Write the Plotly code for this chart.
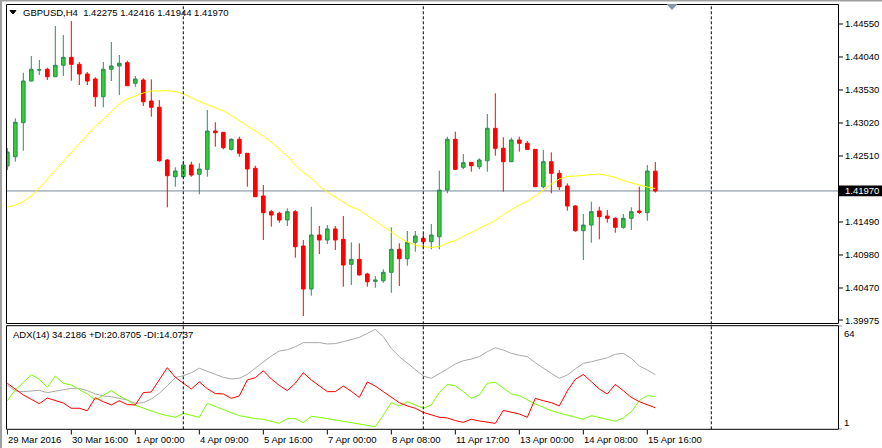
import plotly.graph_objects as go

W, H = 882, 448

# ---------------- data ----------------
bars = list(range(82))
open_ = [1.42355, 1.42499, 1.43025, 1.43669, 1.43839, 1.43850, 1.43735, 1.43912, 1.44035, 1.43927,
         1.43777, 1.43700, 1.43426, 1.43850, 1.43901, 1.43952, 1.43633, 1.43684, 1.43360, 1.43263,
         1.42448, 1.42190, 1.42190, 1.42371, 1.42227, 1.42304, 1.42896, 1.42876, 1.42613, 1.42768,
         1.42552, 1.42320, 1.41892, 1.41649, 1.41624, 1.41521, 1.41649, 1.41119, 1.40454, 1.41289,
         1.41212, 1.41382, 1.41222, 1.40836, 1.40913, 1.40686, 1.40573, 1.40582, 1.40712, 1.41068,
         1.40923, 1.41176, 1.41238, 1.41185, 1.41262, 1.41984, 1.42768, 1.42335, 1.42412, 1.42344,
         1.42437, 1.42938, 1.42629, 1.42422, 1.42757, 1.42706, 1.42613, 1.42035, 1.42422, 1.42242,
         1.42046, 1.41737, 1.41355, 1.41443, 1.41660, 1.41582, 1.41547, 1.41408, 1.41547, 1.41660,
         1.41634, 1.42275]
high = [1.42633, 1.43092, 1.43797, 1.44055, 1.43994, 1.43875, 1.44519, 1.44380, 1.44596, 1.43963,
        1.43808, 1.43726, 1.43963, 1.44272, 1.44071, 1.43983, 1.43746, 1.43711, 1.43695, 1.43375,
        1.42463, 1.42335, 1.42437, 1.42422, 1.42397, 1.43221, 1.43031, 1.42881, 1.42783, 1.42808,
        1.42556, 1.42360, 1.42062, 1.41675, 1.41649, 1.41701, 1.41675, 1.41212, 1.41726, 1.41428,
        1.41443, 1.41428, 1.41582, 1.41176, 1.41160, 1.40706, 1.40655, 1.40759, 1.41408, 1.41160,
        1.41351, 1.41351, 1.41304, 1.41459, 1.42283, 1.42808, 1.42885, 1.42541, 1.42417, 1.42474,
        1.43159, 1.43479, 1.42799, 1.42793, 1.42808, 1.42742, 1.42618, 1.42603, 1.42567, 1.42293,
        1.42088, 1.41752, 1.41613, 1.41803, 1.41726, 1.41675, 1.41562, 1.41613, 1.41717, 1.42035,
        1.42371, 1.42416]
low = [1.42293, 1.42422, 1.42592, 1.43661, 1.43762, 1.43684, 1.43731, 1.43746, 1.43674, 1.43607,
       1.43607, 1.43272, 1.43263, 1.43669, 1.43453, 1.43592, 1.43581, 1.43283, 1.43117, 1.42422,
       1.41717, 1.42035, 1.42170, 1.42190, 1.41918, 1.42190, 1.42654, 1.42613, 1.42592, 1.42499,
       1.42035, 1.41876, 1.41212, 1.41417, 1.41479, 1.41428, 1.40938, 1.40037, 1.40351, 1.40995,
       1.41150, 1.41057, 1.40490, 1.40516, 1.40663, 1.40490, 1.40474, 1.40552, 1.40397, 1.40501,
       1.40814, 1.41031, 1.41083, 1.41068, 1.41068, 1.41933, 1.42293, 1.42304, 1.42267, 1.42304,
       1.42267, 1.42514, 1.41958, 1.42417, 1.42576, 1.42603, 1.42031, 1.42011, 1.41933, 1.41984,
       1.41664, 1.41340, 1.40902, 1.41170, 1.41222, 1.41479, 1.41324, 1.41386, 1.41366, 1.41613,
       1.41510, 1.41944]
close = [1.42572, 1.43031, 1.43669, 1.43850, 1.43842, 1.43735, 1.43912, 1.44035, 1.43927, 1.43777,
         1.43669, 1.43426, 1.43850, 1.43901, 1.43943, 1.43596, 1.43700, 1.43349, 1.43263, 1.42437,
         1.42205, 1.42278, 1.42371, 1.42216, 1.42309, 1.42896, 1.42870, 1.42638, 1.42768, 1.42552,
         1.42309, 1.41881, 1.41634, 1.41598, 1.41521, 1.41649, 1.41108, 1.40454, 1.41289, 1.41212,
         1.41382, 1.41212, 1.40825, 1.40913, 1.40671, 1.40567, 1.40593, 1.40712, 1.41068, 1.40923,
         1.41176, 1.41273, 1.41185, 1.41289, 1.41984, 1.42768, 1.42304, 1.42406, 1.42360, 1.42448,
         1.42938, 1.42629, 1.42422, 1.42757, 1.42706, 1.42613, 1.42035, 1.42422, 1.42242, 1.42035,
         1.41737, 1.41355, 1.41443, 1.41649, 1.41572, 1.41547, 1.41408, 1.41547, 1.41649, 1.41640,
         1.42278, 1.41970]
ma = [1.41717, 1.41752, 1.41807, 1.41892, 1.42015, 1.42154, 1.42293, 1.42433, 1.42572, 1.42711,
      1.42842, 1.42973, 1.43074, 1.43190, 1.43314, 1.43391, 1.43437, 1.43484, 1.43514, 1.43522,
      1.43519, 1.43507, 1.43468, 1.43414, 1.43352, 1.43306, 1.43259, 1.43205, 1.43136, 1.43059,
      1.42981, 1.42904, 1.42819, 1.42726, 1.42618, 1.42510, 1.42371, 1.42255, 1.42170, 1.42046,
      1.41953, 1.41876, 1.41799, 1.41722, 1.41675, 1.41590, 1.41513, 1.41428, 1.41335, 1.41250,
      1.41181, 1.41134, 1.41108, 1.41096, 1.41111, 1.41165, 1.41204, 1.41266, 1.41335, 1.41389,
      1.41451, 1.41513, 1.41606, 1.41683, 1.41752, 1.41814, 1.41892, 1.41984, 1.42077, 1.42154,
      1.42193, 1.42201, 1.42212, 1.42224, 1.42232, 1.42208, 1.42178, 1.42131, 1.42093, 1.42062,
      1.42031, 1.42008]
adx = [27.9, 24.3, 23.9, 24.5, 24.7, 23.3, 24.3, 25.3, 25.9, 25.9,
       24.5, 22.5, 21.3, 20.8, 20.0, 18.8, 16.8, 17.2, 19.4, 22.9,
       27.5, 32.4, 33.6, 35.4, 38.1, 36.4, 34.6, 32.6, 31.6, 32.0,
       34.4, 37.9, 41.9, 45.6, 48.6, 49.4, 51.2, 53.7, 53.9, 53.7,
       52.9, 53.1, 54.3, 55.7, 56.9, 59.3, 61.8, 57.3, 50.2, 45.2,
       41.1, 37.5, 33.4, 32.0, 34.6, 37.7, 40.7, 42.7, 43.7, 45.2,
       48.2, 50.6, 49.2, 47.2, 46.0, 45.2, 41.5, 38.1, 35.0, 32.0,
       34.0, 37.7, 41.1, 42.1, 43.1, 44.5, 46.6, 47.2, 44.1, 39.5,
       37.1, 34.2]
plus_di = [18.4, 24.9, 29.4, 34.2, 31.4, 26.5, 33.4, 29.0, 27.9, 25.3,
           22.5, 18.8, 21.9, 24.5, 21.3, 18.8, 15.6, 13.8, 12.3, 10.5,
           9.3, 8.3, 10.7, 9.5, 8.3, 16.8, 14.8, 13.1, 11.1, 9.3,
           8.3, 7.5, 7.1, 5.9, 4.6, 7.5, 7.5, 5.0, 8.9, 8.3,
           7.5, 6.7, 5.7, 5.0, 4.2, 3.4, 2.6, 9.7, 17.2, 15.2,
           17.8, 15.8, 13.8, 15.8, 23.3, 28.3, 27.5, 23.9, 19.8, 21.9,
           29.0, 29.6, 26.3, 22.5, 21.5, 18.8, 16.4, 14.4, 12.3, 10.9,
           9.5, 8.1, 7.1, 9.3, 8.1, 6.9, 5.9, 7.9, 11.7, 18.4,
           21.5, 20.9]
minus_di = [29.0, 25.7, 21.9, 19.2, 16.6, 20.0, 18.4, 17.0, 13.8, 13.8,
            12.3, 20.2, 17.8, 15.8, 18.4, 16.0, 15.8, 23.3, 23.7, 31.4,
            38.5, 32.6, 29.0, 25.5, 29.8, 25.7, 22.7, 22.5, 19.8, 21.3,
            31.0, 32.4, 36.6, 31.6, 27.7, 24.5, 29.0, 35.4, 31.0, 27.3,
            23.9, 23.9, 27.3, 24.1, 20.4, 29.8, 27.3, 23.9, 20.4, 17.2,
            15.2, 13.8, 11.3, 9.7, 8.3, 7.9, 6.3, 5.2, 7.1, 6.1,
            5.2, 4.6, 12.5, 11.5, 10.3, 8.3, 19.8, 18.4, 17.2, 15.2,
            24.3, 31.4, 34.4, 30.0, 25.5, 22.5, 28.3, 24.5, 20.4, 17.8,
            15.8, 14.1]

time_tick_bars = [0, 8, 16, 24, 32, 40, 48, 56, 64, 72, 80]
time_tick_labels = ["29 Mar 2016", "30 Mar 16:00", "1 Apr 00:00", "4 Apr 09:00", "5 Apr 16:00",
                    "7 Apr 00:00", "8 Apr 08:00", "11 Apr 17:00", "13 Apr 00:00", "14 Apr 08:00",
                    "15 Apr 16:00"]
price_ticks = [1.44550, 1.44040, 1.43530, 1.43020, 1.42510, 1.41490, 1.40980, 1.40470, 1.39975]
week_start_bars = [22, 52, 88]
last_price = 1.41970
title_text = "GBPUSD,H4\u00a0\u00a01.42275 1.42416 1.41944 1.41970"
adx_text = "ADX(14) 34.2186 +DI:20.8705 -DI:14.0737"
adx_scale = [1, 64]

# ---------------- layout helpers ----------------
def px(p):
    return p / W

def py(p):
    return 1 - p / H

LEFT, RIGHT = 7, 839
MAIN_TOP, MAIN_BOT = 4, 323
SUB_TOP, SUB_BOT = 325.7, 429.3
x_range = [-0.0375, -0.0375 + (RIGHT - LEFT) / 8.0]
y_range = [1.39929, 1.44859]

FONT = "Liberation Sans, Arial, sans-serif"
FS = 9.5

fig = go.Figure()
fig.add_trace(go.Candlestick(
    x=bars, open=open_, high=high, low=low, close=close,
    increasing=dict(line=dict(color="#2E8B57", width=1), fillcolor="#32CD32"),
    decreasing=dict(line=dict(color="#FF0000", width=1), fillcolor="#FF0000"),
    whiskerwidth=0, xaxis="x", yaxis="y", showlegend=False, hoverinfo="skip"))
fig.add_trace(go.Scatter(x=bars, y=ma, mode="lines", line=dict(color="#FFFF00", width=1),
                         xaxis="x", yaxis="y", showlegend=False, hoverinfo="skip"))
fig.add_trace(go.Scatter(x=bars, y=adx, mode="lines", line=dict(color="#A8A8A8", width=1),
                         xaxis="x2", yaxis="y2", showlegend=False, hoverinfo="skip"))
fig.add_trace(go.Scatter(x=bars, y=plus_di, mode="lines", line=dict(color="#7CFC00", width=1),
                         xaxis="x2", yaxis="y2", showlegend=False, hoverinfo="skip"))
fig.add_trace(go.Scatter(x=bars, y=minus_di, mode="lines", line=dict(color="#FF0000", width=1),
                         xaxis="x2", yaxis="y2", showlegend=False, hoverinfo="skip"))

ax_common = dict(showgrid=False, zeroline=False, showticklabels=False, ticks="", showline=False,
                 fixedrange=True)
shapes = []
# window chrome
shapes.append(dict(type="rect", xref="paper", yref="paper", x0=0, x1=px(2), y0=0, y1=1,
                   fillcolor="#A0A0A0", line=dict(width=0), layer="below"))
shapes.append(dict(type="rect", xref="paper", yref="paper", x0=0, x1=1, y0=py(1.5), y1=1,
                   fillcolor="#A0A0A0", line=dict(width=0), layer="below"))
# current price line
shapes.append(dict(type="line", xref="paper", yref="y", x0=px(LEFT), x1=px(RIGHT),
                   y0=last_price, y1=last_price, line=dict(color="#778899", width=1), layer="below"))
# week separators
for b in week_start_bars:
    shapes.append(dict(type="line", xref="x", yref="paper", x0=b, x1=b, y0=py(SUB_BOT), y1=py(MAIN_TOP),
                       line=dict(color="black", width=1, dash="3px,2px")))
# frames
for (t, bt) in [(MAIN_TOP + 0.5, MAIN_BOT + 0.5), (SUB_TOP, SUB_BOT)]:
    shapes.append(dict(type="rect", xref="paper", yref="paper", x0=px(6.5), x1=px(838.5),
                       y0=py(bt), y1=py(t), line=dict(color="black", width=1)))
# price box
shapes.append(dict(type="rect", xref="paper", yref="y", x0=px(839), x1=1,
                   y0=last_price - 0.00084, y1=last_price + 0.00084,
                   fillcolor="black", line=dict(width=0)))
# price axis ticks
for p in price_ticks + [last_price]:
    shapes.append(dict(type="line", xref="paper", yref="y", x0=px(839), x1=px(843), y0=p, y1=p,
                       line=dict(color="black", width=1)))
for v in adx_scale:
    shapes.append(dict(type="line", xref="paper", yref="y2", x0=px(839), x1=px(842), y0=v, y1=v,
                       line=dict(color="black", width=1)))
# time ticks
for b in time_tick_bars:
    shapes.append(dict(type="line", xref="x2", yref="paper", x0=b, x1=b, y0=py(434.5), y1=py(430),
                       line=dict(color="black", width=1)))
# title triangle
tri = "M {} {} L {} {} L {} {} Z".format(px(10), py(10.5), px(16), py(10.5), px(13), py(14))
shapes.append(dict(type="path", xref="paper", yref="paper", path=tri, fillcolor="black",
                   line=dict(color="black", width=1)))
# chart shift marker
sh = "M {} {} L {} {} L {} {} Z".format(px(667.5), py(4.5), px(676.5), py(4.5), px(672), py(9.5))
shapes.append(dict(type="path", xref="paper", yref="paper", path=sh, fillcolor="#8494A8",
                   line=dict(color="#8494A8", width=1)))

ann = []
ann.append(dict(text=title_text, xref="paper", yref="paper", x=px(22), y=py(12.5), xanchor="left",
                yanchor="middle", showarrow=False, font=dict(family=FONT, size=FS, color="black")))
ann.append(dict(text=adx_text, xref="paper", yref="paper", x=px(12), y=py(334.5), xanchor="left",
                yanchor="middle", showarrow=False, font=dict(family=FONT, size=FS, color="black")))
for p in price_ticks:
    ann.append(dict(text="{:.5f}".format(p), xref="paper", yref="y", x=px(844), y=p, xanchor="left",
                    yanchor="middle", showarrow=False, font=dict(family=FONT, size=FS, color="black")))
ann.append(dict(text="{:.5f}".format(last_price), xref="paper", yref="y", x=px(844), y=last_price,
                xanchor="left", yanchor="middle", showarrow=False,
                font=dict(family=FONT, size=FS, color="white")))
ann.append(dict(text=str(adx_scale[1]), xref="paper", yref="y2", x=px(843), y=adx_scale[1], xanchor="left",
                yanchor="top", yshift=-1, showarrow=False, font=dict(family=FONT, size=FS, color="black")))
ann.append(dict(text=str(adx_scale[0]), xref="paper", yref="y2", x=px(843), y=adx_scale[0], xanchor="left",
                yanchor="bottom", yshift=0, showarrow=False, font=dict(family=FONT, size=FS, color="black")))
for b, lab in zip(time_tick_bars, time_tick_labels):
    ann.append(dict(text=lab, xref="x2", yref="paper", x=b, y=py(439), xanchor="left", xshift=0,
                    yanchor="middle", showarrow=False, font=dict(family=FONT, size=FS, color="black")))
for a in ann:
    a["borderpad"] = 0

fig.update_layout(
    width=W, height=H, margin=dict(l=0, r=0, t=0, b=0), autosize=False,
    paper_bgcolor="white", plot_bgcolor="white", showlegend=False, boxgap=0.35,
    xaxis=dict(domain=[px(LEFT), px(RIGHT)], range=x_range, anchor="y",
               rangeslider=dict(visible=False), **ax_common),
    yaxis=dict(domain=[py(MAIN_BOT), py(MAIN_TOP)], range=y_range, anchor="x", **ax_common),
    xaxis2=dict(domain=[px(LEFT), px(RIGHT)], range=x_range, anchor="y2", **ax_common),
    yaxis2=dict(domain=[py(SUB_BOT), py(SUB_TOP)], range=adx_scale, anchor="x2", **ax_common),
    shapes=shapes, annotations=ann,
)
fig.write_html("out.html", config={"displayModeBar": False})
